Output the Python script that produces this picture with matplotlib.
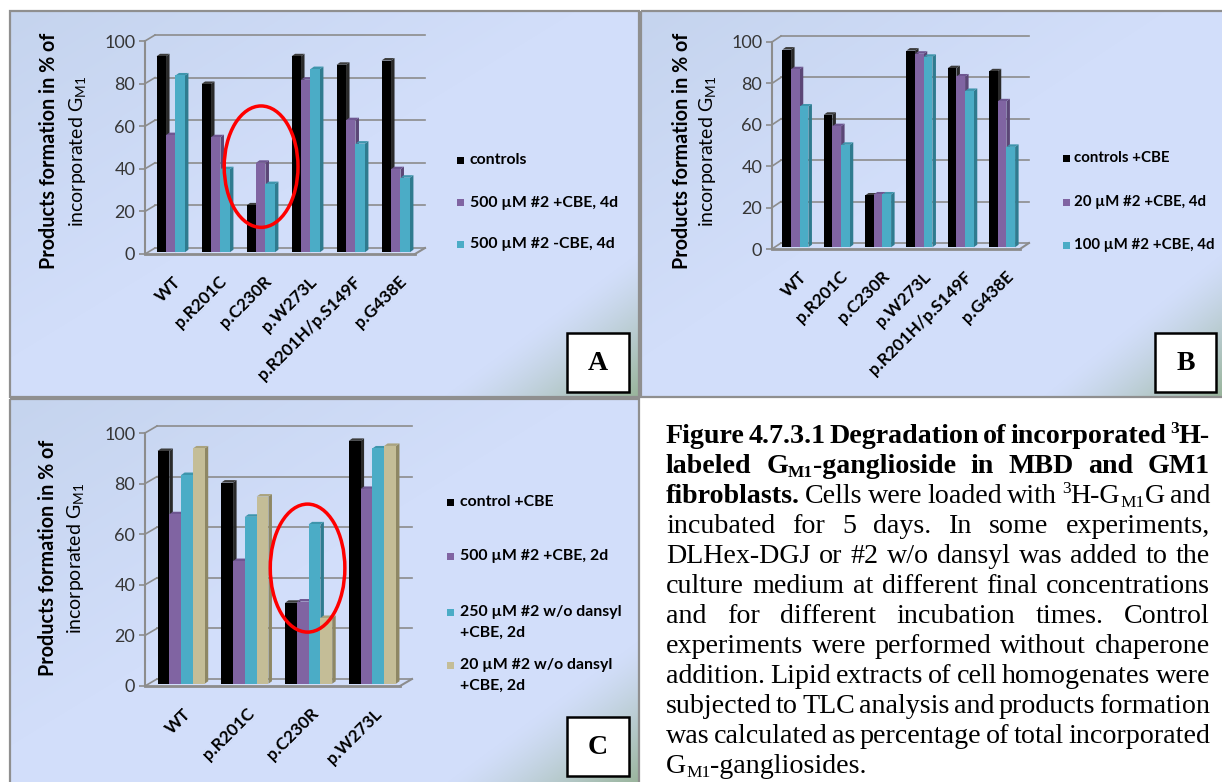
import re
import numpy as np
import matplotlib
matplotlib.use("Agg")
import matplotlib.pyplot as plt
from matplotlib.patches import Rectangle, Polygon, Ellipse
from matplotlib.font_manager import FontProperties

plt.rcParams["font.family"] = ["Lato", "DejaVu Sans"]
plt.rcParams["mathtext.default"] = "regular"

# ---------------- data ----------------
cats_ab = ["WT", "p.R201C", "p.C230R", "p.W273L", "p.R201H/p.S149F", "p.G438E"]
cats_c = ["WT", "p.R201C", "p.C230R", "p.W273L"]

a_labels = ["controls", "500 µM #2 +CBE, 4d", "500 µM #2 -CBE, 4d"]
a_controls = [92, 79, 22, 92, 88, 90]
a_500_cbe = [55, 54, 42, 81, 62, 39]
a_500_no_cbe = [83, 39, 32, 86, 51, 35]

b_labels = ["controls +CBE", "20 µM #2 +CBE, 4d", "100 µM #2 +CBE, 4d"]
b_controls = [95.5, 64, 25, 95, 86.5, 85]
b_20 = [86, 58.5, 25.5, 93.5, 82.5, 70.5]
b_100 = [68, 49.5, 25.5, 92, 75.5, 48.5]

c_labels = ["control +CBE", "500 µM #2 +CBE, 2d",
            "250 µM #2 w/o dansyl\n+CBE, 2d", "20 µM #2 w/o dansyl\n+CBE, 2d"]
c_control = [92, 79.5, 32, 96]
c_500 = [67, 48.5, 32.5, 77]
c_250 = [82.5, 66, 63, 93]
c_20 = [93, 74, 26, 94]

yticks = [0, 20, 40, 60, 80, 100]

caption = [
    [("Figure 4.7.3.1 Degradation of incorporated ^{3}H-", True)],
    [("labeled G_{M1}-ganglioside in MBD and GM1", True)],
    [("fibroblasts.", True), (" Cells were loaded with ^{3}H-G_{M1}G and", False)],
    [("incubated for 5 days. In some experiments,", False)],
    [("DLHex-DGJ or #2 w/o dansyl was added to the", False)],
    [("culture medium at different final concentrations", False)],
    [("and for different incubation times. Control", False)],
    [("experiments were performed without chaperone", False)],
    [("addition. Lipid extracts of cell homogenates were", False)],
    [("subjected to TLC analysis and products formation", False)],
    [("was calculated as percentage of total incorporated", False)],
    [("G_{M1}-gangliosides.", False)],
]

# ---------------- styling ----------------
W, H = 1222, 782
GRID = "#8c8c8c"
BLACK = ("#000000", "#2a2a2a", "#3c3c3c")
PURPLE = ("#8064a2", "#5b4676", "#6e5691")
CYAN = ("#4bacc6", "#2f7b8f", "#3e95ac")
TAN = ("#c4bd97", "#8e8764", "#aaa37e")

fig = plt.figure(figsize=(W / 100, H / 100), dpi=100)
fig.patch.set_facecolor("white")

bg = fig.add_axes([0, 0, 1, 1])
bg.set_axis_off()


def panel_background(x0, y0, x1, y1):
    w, h = int(x1 - x0), int(y1 - y0)
    u = np.linspace(0, 1, w)[None, :]
    v = np.linspace(0, 1, h)[:, None]
    base = np.array([210, 222, 250]) / 255
    corner_tl = np.array([197, 212, 238]) / 255
    corner_br = np.array([150, 178, 150]) / 255
    t1 = np.clip(1 - (u + v) / 0.9, 0, 1)
    img = base + (corner_tl - base) * t1[..., None]
    t2 = np.clip((u + 0.83 * v - 1.52) / 0.32, 0, 1) ** 1.3
    img = img + (corner_br - img) * t2[..., None]
    bg.imshow(img, extent=(x0, x1, y1, y0), aspect="auto", zorder=0,
              interpolation="bilinear")
    bg.add_patch(Rectangle((x0, y0), x1 - x0, y1 - y0, fill=False,
                           ec="#8f8f8f", lw=1.6, zorder=1))


panel_background(10, 11, 639, 397)
panel_background(641, 11, 1224, 397)
panel_background(10, 399, 639, 785)
bg.set_xlim(0, W)
bg.set_ylim(H, 0)


def letter_box(x0, y0, x1, y1, letter):
    bg.add_patch(Rectangle((x0, y0), x1 - x0, y1 - y0, fc="white",
                           ec="black", lw=1.8, zorder=2))
    bg.text((x0 + x1) / 2, (y0 + y1) / 2 + 1, letter, ha="center", va="center",
            family="Liberation Serif", weight="bold", fontsize=20, zorder=3)


def bar_chart(x_axis, x_end, y_zero, y_top, cats, series, colors, bar_w,
              wall=(10, 6), bar_d=(3.5, 2.5)):
    ax = fig.add_axes([x_axis / W, 1 - y_zero / H,
                       (x_end - x_axis) / W, (y_zero - y_top) / H])
    n = len(cats)
    ax.set_xlim(0, n)
    ax.set_ylim(0, 100)
    ax.patch.set_visible(False)
    for s in ["top", "right", "bottom"]:
        ax.spines[s].set_visible(False)
    ax.spines["left"].set_color(GRID)
    ax.spines["left"].set_linewidth(1.5)

    px_x = (x_end - x_axis) / n
    px_y = (y_zero - y_top) / 100
    wdx, wdy = wall[0] / px_x, wall[1] / px_y
    bdx, bdy = bar_d[0] / px_x, bar_d[1] / px_y

    # back wall and floor
    for t in yticks:
        ax.plot([0, wdx], [t, t + wdy], color=GRID, lw=1.2, clip_on=False, zorder=1)
        ax.plot([wdx, n + wdx], [t + wdy, t + wdy], color=GRID, lw=1.2,
                clip_on=False, zorder=1)
    ax.plot([0, n], [0, 0], color=GRID, lw=2, clip_on=False, zorder=1)
    ax.plot([n, n + wdx], [0, wdy], color=GRID, lw=1.5, clip_on=False, zorder=1)

    # 3-D columns
    k = len(series)
    ox = wdx * 0.5 - bdx * 0.5
    oy = wdy * 0.5 - bdy * 0.5
    z = 3
    for i in range(n):
        for s, (vals, (cf, cs, ct)) in enumerate(zip(series, colors)):
            v = vals[i]
            xl = i + 0.5 - k * bar_w / 2 + s * bar_w + ox
            xr = xl + bar_w
            ax.add_patch(Polygon([(xr, oy), (xr + bdx, oy + bdy),
                                  (xr + bdx, oy + v + bdy), (xr, oy + v)],
                                 closed=True, fc=cs, ec="none", zorder=z,
                                 clip_on=False))
            ax.add_patch(Polygon([(xl, oy + v), (xl + bdx, oy + v + bdy),
                                  (xr + bdx, oy + v + bdy), (xr, oy + v)],
                                 closed=True, fc=ct, ec="none", zorder=z,
                                 clip_on=False))
            ax.bar(xl, v, width=bar_w, bottom=oy, align="edge", color=cf,
                   lw=0, zorder=z + 0.5, clip_on=False)
            z += 1

    ax.set_yticks(yticks)
    ax.tick_params(axis="y", length=4, width=1.2, color=GRID, labelsize=13,
                   labelcolor="#363636", pad=3)
    ax.set_xticks([])
    for i, c in enumerate(cats):
        ax.annotate(c, xy=(i + 0.5, 0), xycoords="data", xytext=(4, -14),
                    textcoords="offset points", rotation=45, ha="right",
                    va="top", rotation_mode="anchor", fontsize=12.3,
                    fontweight="bold", color="black")
    return ax


def y_title(x1, x2, yc):
    bg.text(x1, yc, "Products formation in % of", rotation=90, ha="center",
            va="center", fontsize=14.2, fontweight="bold", color="black")
    bg.text(x2, yc, "incorporated G$_{M1}$", rotation=90, ha="center",
            va="center", fontsize=14, color="black")


def legend(xm, xt, ys, labels, colors, fs=11.4, line_h=21):
    for y, lab, col in zip(ys, labels, colors):
        bg.add_patch(Rectangle((xm, y - 3.5), 7, 7, fc=col[0], ec="none", zorder=2))
        for j, part in enumerate(lab.split("\n")):
            bg.text(xt, y + j * line_h, part, ha="left", va="center",
                    fontsize=fs, fontweight="bold", color="black", zorder=2)


# Panel A
ax_a = bar_chart(145, 415, 254, 41, cats_ab,
                 [a_controls, a_500_cbe, a_500_no_cbe], [BLACK, PURPLE, CYAN],
                 0.21, wall=(10, 6))
ia = cats_ab.index("p.C230R")
ax_a.add_patch(Ellipse((ia + 0.58, 41), 1.64, 57, fill=False, ec="#ff0000",
                       lw=2.5, zorder=100, clip_on=False))
y_title(49, 78, 151)
legend(457, 470, [160.5, 202.5, 244], a_labels, [BLACK, PURPLE, CYAN])
letter_box(567, 333, 629, 392, "A")

# Panel B
ax_b = bar_chart(772, 1020, 249, 42, cats_ab,
                 [b_controls, b_20, b_100], [BLACK, PURPLE, CYAN],
                 0.21, wall=(9, 6))
y_title(682, 708, 151)
legend(1063, 1074, [158, 202, 245], b_labels, [BLACK, PURPLE, CYAN], fs=10.8)
letter_box(1155, 333, 1216, 392, "B")

# Panel C
ax_c = bar_chart(145, 400, 686, 433, cats_c,
                 [c_control, c_500, c_250, c_20], [BLACK, PURPLE, CYAN, TAN],
                 0.185, wall=(12, 7))
ic = cats_c.index("p.C230R")
ax_c.add_patch(Ellipse((ic + 0.55, 46.6), 1.17, 50.6, fill=False, ec="#ff0000",
                       lw=2.5, zorder=100, clip_on=False))
y_title(48, 75, 558)
legend(447, 460, [502, 556, 612, 665], c_labels, [BLACK, PURPLE, CYAN, TAN])
letter_box(567, 717, 629, 776, "C")

# ---------------- caption (justified) ----------------
renderer = fig.canvas.get_renderer()
CAP_X0, CAP_X1 = 666, 1210
CAP_Y0, CAP_DY = 443, 30.0


def parse_line(chunks):
    words, cur = [], []
    for text, bold in chunks:
        for piece in re.split(r"(\^\{[^}]*\}|_\{[^}]*\}| )", text):
            if piece == "":
                continue
            if piece == " ":
                if cur:
                    words.append(cur)
                cur = []
            elif piece.startswith("^{"):
                cur.append((piece[2:-1], bold, "sup"))
            elif piece.startswith("_{"):
                cur.append((piece[2:-1], bold, "sub"))
            else:
                cur.append((piece, bold, "norm"))
    if cur:
        words.append(cur)
    return words


def fprop(bold, kind, size):
    s = size * (0.62 if kind != "norm" else 1.0)
    return FontProperties(family="Liberation Serif", size=s,
                          weight="bold" if bold else "normal")


def run_width(txt, fp):
    return renderer.get_text_width_height_descent(txt, fp, ismath=False)[0]


def word_width(word, size):
    return sum(run_width(t, fprop(b, k, size)) for t, b, k in word)


parsed = [parse_line(c) for c in caption]
# font size chosen so the widest plain line fills the text column
ref_words = parsed[5]
ref_size = 10.0
sp10 = run_width("a a", fprop(False, "norm", ref_size)) - run_width("aa", fprop(False, "norm", ref_size))
nat = sum(word_width(w, ref_size) for w in ref_words) + sp10 * (len(ref_words) - 1)
cap_size = ref_size * (CAP_X1 - CAP_X0) / nat * 0.985
space_w = sp10 * cap_size / ref_size

for li, words in enumerate(parsed):
    widths = [word_width(w, cap_size) for w in words]
    last = li == len(parsed) - 1
    if last or len(words) < 2:
        gap = space_w
    else:
        gap = (CAP_X1 - CAP_X0 - sum(widths)) / (len(words) - 1)
    x = CAP_X0
    yb = CAP_Y0 + li * CAP_DY
    em = cap_size * 100 / 72
    for w, ww in zip(words, widths):
        xx = x
        for t, b, k in w:
            fp = fprop(b, k, cap_size)
            dy = {"norm": 0, "sup": -0.36 * em, "sub": 0.14 * em}[k]
            bg.text(xx, yb + dy, t, fontproperties=fp, ha="left",
                    va="baseline", color="black", zorder=3)
            xx += run_width(t, fp)
        x += ww + gap

fig.savefig("out.png", dpi=100, facecolor="white")
